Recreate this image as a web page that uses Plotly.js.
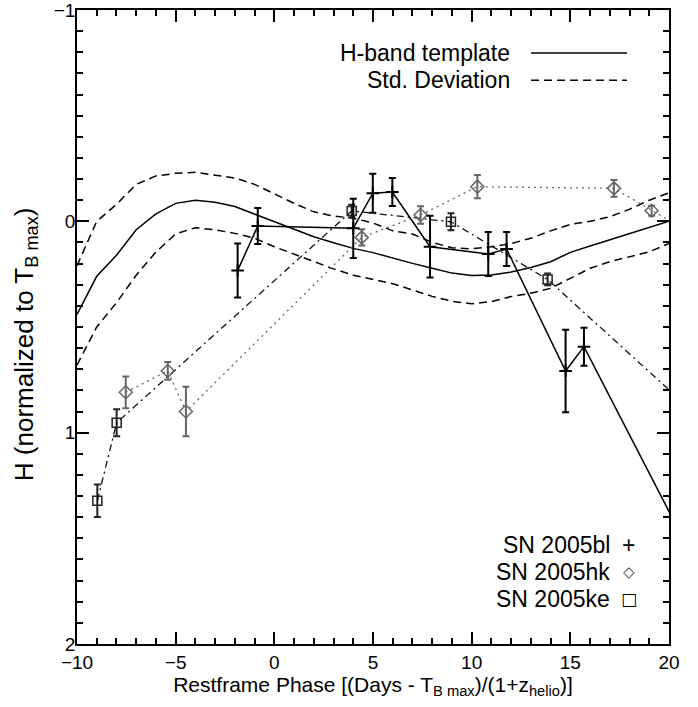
<!DOCTYPE html>
<html>
<head>
<meta charset="utf-8">
<script src="https://cdn.plot.ly/plotly-3.0.1.min.js"></script>
<style>html,body{margin:0;padding:0;background:#fff;}#chart{width:698px;height:707px;}</style>
</head>
<body>
<div id="chart"></div>
<script>
// ---- H-band template and standard deviation envelope ----
const templatePhase = [-10,-9,-8,-7,-6,-5,-4,-3,-2,-1,0,1,2,3,4,5,6,7,8,9,10,11,12,13,14,15,16,17,18,19,20];
const templateMag   = [0.44,0.26,0.16,0.04,-0.035,-0.085,-0.10,-0.09,-0.07,-0.035,0.0,0.037,0.073,0.101,0.128,0.148,0.175,0.199,0.222,0.245,0.256,0.254,0.24,0.218,0.191,0.147,0.117,0.088,0.057,0.028,0.0];
const upperStd      = [0.21,0.0,-0.08,-0.175,-0.215,-0.227,-0.232,-0.22,-0.205,-0.175,-0.13,-0.085,-0.045,-0.025,-0.015,0.008,0.045,0.06,0.1,0.125,0.13,0.12,0.105,0.08,0.045,0.015,0.0,-0.022,-0.057,-0.1,-0.135];
const lowerStd      = [0.68,0.50,0.385,0.255,0.145,0.06,0.03,0.04,0.057,0.08,0.12,0.155,0.19,0.225,0.255,0.275,0.295,0.325,0.355,0.378,0.39,0.38,0.356,0.34,0.317,0.27,0.222,0.191,0.167,0.144,0.105];

// ---- SN 2005bl (+) ----
const blPhase = [-1.86,-0.84,4.0,4.99,5.98,7.89,10.84,11.77,14.76,15.69,21];
const blMag   = [0.233,0.022,0.033,-0.133,-0.139,0.12,0.155,0.131,0.708,0.593,1.554];
const blErr   = [0.128,0.085,0.14,0.092,0.066,0.146,0.104,0.08,0.195,0.09,0];

// ---- SN 2005hk (diamond) ----
const hkPhase = [-7.53,-5.4,-4.48,4.43,7.41,10.29,17.21,19.12,21];
const hkMag   = [0.809,0.708,0.9,0.076,-0.03,-0.164,-0.156,-0.05,0.05];
const hkErr   = [0.075,0.042,0.117,0.038,0.041,0.055,0.04,0.024,0];

// ---- SN 2005ke (square) ----
const kePhase = [-8.97,-7.99,3.92,8.95,13.85,21];
const keMag   = [1.322,0.953,-0.049,0.002,0.275,0.882];
const keErr   = [0.077,0.064,0.03,0.04,0.028,0];

// ---- axis ranges / tick steps ----
const xRange = [-10, 20];
const yRange = [2, -1];
const xMajorStep = 5, xMinorStep = 1;
const yMajorStep = 1, yMinorStep = 0.1;

const FONT = "Liberation Sans";

const traces = [
  {x: templatePhase, y: upperStd, mode: 'lines', line: {color: '#000', width: 1.5, dash: '8px,5px'}},
  {x: templatePhase, y: lowerStd, mode: 'lines', line: {color: '#000', width: 1.5, dash: '8px,5px'}},
  {x: templatePhase, y: templateMag, mode: 'lines', line: {color: '#000', width: 1.5}},
  {x: kePhase, y: keMag, mode: 'lines+markers',
   line: {color: '#111', width: 1.3, dash: '7px,4px,2px,4px'},
   marker: {symbol: 'square-open', size: 9, color: '#222', line: {width: 1.5, color: '#222'}},
   error_y: {type: 'data', array: keErr, visible: true, color: '#222', thickness: 2, width: 3.5}},
  {x: hkPhase, y: hkMag, mode: 'lines+markers',
   line: {color: '#666', width: 1.3, dash: '2px,4px'},
   marker: {symbol: 'diamond-open', size: 10, color: '#666', line: {width: 1.5, color: '#666'}},
   error_y: {type: 'data', array: hkErr, visible: true, color: '#666', thickness: 2, width: 3.5}},
  {x: blPhase, y: blMag, mode: 'lines+markers',
   line: {color: '#000', width: 1.5},
   marker: {symbol: 'cross-thin-open', size: 9, color: '#000', line: {width: 2, color: '#000'}},
   error_y: {type: 'data', array: blErr, visible: true, color: '#000', thickness: 2, width: 3.5}}
];

const layout = {
  width: 698, height: 707,
  margin: {l: 77, r: 29, t: 10, b: 63},
  showlegend: false,
  xaxis: {
    range: xRange, dtick: xMajorStep, tick0: 0,
    showgrid: false, zeroline: false, showline: true, linecolor: '#000', linewidth: 1.5,
    mirror: 'ticks', ticks: 'inside', ticklen: 12, tickwidth: 2, tickcolor: '#000',
    minor: {ticks: 'inside', ticklen: 6, dtick: xMinorStep},
    tickfont: {family: FONT, size: 19, color: '#000'},
    ticklabeloverflow: 'allow',
    title: {text: 'Restframe Phase [(Days - T<sub>B max</sub>)/(1+z<sub>helio</sub>)]', font: {family: FONT, size: 21, color: '#000'}, standoff: 0}
  },
  yaxis: {
    range: yRange, dtick: yMajorStep, tick0: 0,
    showgrid: false, zeroline: false, showline: true, linecolor: '#000', linewidth: 1.5,
    mirror: 'ticks', ticks: 'inside', ticklen: 12, tickwidth: 2, tickcolor: '#000',
    minor: {ticks: 'inside', ticklen: 6, dtick: yMinorStep},
    tickfont: {family: FONT, size: 19, color: '#000'},
    ticklabeloverflow: 'allow', ticklabelstandoff: -4
  },
  annotations: [
    // y-axis title
    {xref: 'paper', yref: 'paper', x: -0.0878, y: 0.473, xanchor: 'center', yanchor: 'middle', textangle: -90, showarrow: false,
     text: 'H (normalized to T<sub>B max</sub>)', font: {family: FONT, size: 26, color: '#000'}},
    // legends
    {xref: 'paper', yref: 'paper', x: 0.735, y: 0.932, xanchor: 'right', yanchor: 'middle', showarrow: false, text: 'H-band template', font: {family: FONT, size: 23, color: '#000'}},
    {xref: 'paper', yref: 'paper', x: 0.735, y: 0.889, xanchor: 'right', yanchor: 'middle', showarrow: false, text: 'Std. Deviation', font: {family: FONT, size: 23, color: '#000'}},
    {xref: 'paper', yref: 'paper', x: 0.904, y: 0.156, xanchor: 'right', yanchor: 'middle', showarrow: false, text: 'SN 2005bl', font: {family: FONT, size: 23, color: '#000'}},
    {xref: 'paper', yref: 'paper', x: 0.904, y: 0.114, xanchor: 'right', yanchor: 'middle', showarrow: false, text: 'SN 2005hk', font: {family: FONT, size: 23, color: '#000'}},
    {xref: 'paper', yref: 'paper', x: 0.904, y: 0.071, xanchor: 'right', yanchor: 'middle', showarrow: false, text: 'SN 2005ke', font: {family: FONT, size: 23, color: '#000'}},
    {xref: 'paper', yref: 'paper', x: 0.932, y: 0.156, xanchor: 'center', yanchor: 'middle', showarrow: false, text: '+', font: {family: FONT, size: 23, color: '#000'}},
    {xref: 'paper', yref: 'paper', x: 0.932, y: 0.114, xanchor: 'center', yanchor: 'middle', showarrow: false, text: '◇', font: {family: 'DejaVu Sans', size: 15, color: '#444'}},
    {xref: 'paper', yref: 'paper', x: 0.932, y: 0.071, xanchor: 'center', yanchor: 'middle', showarrow: false, text: '□', font: {family: 'DejaVu Sans', size: 17, color: '#000'}}
  ],
  shapes: [
    {type: 'line', xref: 'paper', yref: 'paper', x0: 0.767, x1: 0.929, y0: 0.932, y1: 0.932, line: {color: '#000', width: 1.5}},
    {type: 'line', xref: 'paper', yref: 'paper', x0: 0.767, x1: 0.929, y0: 0.889, y1: 0.889, line: {color: '#000', width: 1.5, dash: '8px,5px'}}
  ]
};

Plotly.newPlot('chart', traces, layout, {displayModeBar: false});
</script>
</body>
</html>
